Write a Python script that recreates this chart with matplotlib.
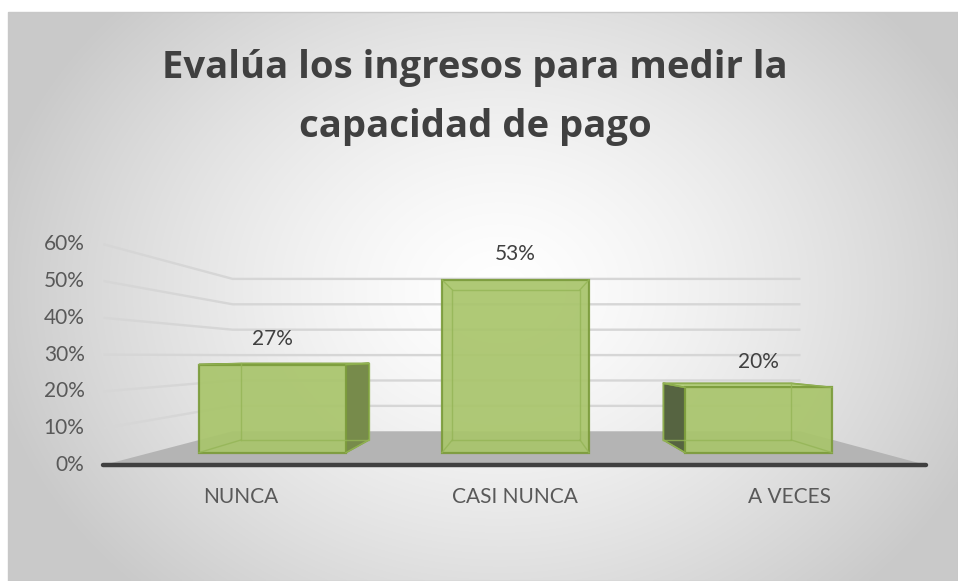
import numpy as np
import matplotlib
matplotlib.use("Agg")
import matplotlib.pyplot as plt
from matplotlib.patches import Polygon, Rectangle

# ---------------- data ----------------
categories = ["NUNCA", "CASI NUNCA", "A VECES"]
values = [27, 53, 20]
yticks = [0, 10, 20, 30, 40, 50, 60]
title_lines = ["Evalúa los ingresos para medir la", "capacidad de pago"]

# ---------------- layout / style ----------------
W, H, DPI = 958, 581, 100
plt.rcParams['font.family'] = ['Lato', 'DejaVu Sans']

# data-coordinate mapping (x: category units, y: percent on the bar front plane)
X0PX, XSCALE = 272.5, 243.0
Y0PX, YSCALE = 452.6, 3.26
def px2d(xp, yp):
    return ((xp - X0PX) / XSCALE, (Y0PX - yp) / YSCALE)

# perspective model
VX, VY = 1.02, 29.6
F_FRONT, F_BACK, F_BAR_BACK = 1.129, 0.779, 0.869
XL, XR = -0.5, 2.5
BAR_W = 0.605

def proj(x, y, f):
    return (VX + f * (x - VX), VY + f * (y - VY))

fig = plt.figure(figsize=(W / DPI, H / DPI), dpi=DPI)
fig.patch.set_facecolor("white")
ax = fig.add_axes([0, 0, 1, 1])
xa, yb = px2d(0, H)
xb, ya = px2d(W, 0)
ax.set_xlim(xa, xb)
ax.set_ylim(yb, ya)
ax.axis("off")

# ---------------- background (radial gradient chart area) ----------------
cx0, cy0 = 8, 12
gx = np.linspace(cx0, W, 400)
gy = np.linspace(cy0, H, 250)
GX, GY = np.meshgrid(gx, gy)
r = np.sqrt(((GX - 500) / 520.0) ** 2 + ((GY - 290) / 420.0) ** 2)
val = 1.0 - 0.21 * np.clip(r, 0, 1) ** 1.4
img = np.dstack([val, val, val])
e0 = px2d(cx0, H)
e1 = px2d(W, cy0)
ax.imshow(img, extent=[e0[0], e1[0], e0[1], e1[1]], origin="upper",
          aspect="auto", zorder=0, interpolation="bilinear")
bx0, by0 = px2d(cx0, H)
bx1, by1 = px2d(W, cy0)
ax.add_patch(Rectangle((bx0, by0), bx1 - bx0, by1 - by0, fill=False,
                       edgecolor="#c8c8c8", lw=1.0, zorder=1))

# ---------------- floor ----------------
floor = [proj(XL, 0, F_FRONT), proj(XR, 0, F_FRONT),
         proj(XR, 0, F_BACK), proj(XL, 0, F_BACK)]
ax.add_patch(Polygon(floor, closed=True, facecolor="#b4b4b4",
                     edgecolor="none", zorder=2))

# ---------------- gridlines (side + back wall) ----------------
for t in yticks[1:]:
    p1 = proj(XL, t, F_FRONT)
    p2 = proj(XL, t, F_BACK)
    p3 = proj(XR, t, F_BACK)
    ax.plot([p1[0], p2[0], p3[0]], [p1[1], p2[1], p3[1]],
            color="#d6d6d6", lw=1.7, zorder=3, solid_capstyle="butt")

# axis line
a1 = proj(XL, 0, F_FRONT)
a2 = proj(XR, 0, F_FRONT)
ax.plot([a1[0], a2[0]], [a1[1], a2[1]], color="#404040", lw=3.2, zorder=4,
        solid_capstyle="round")

# ---------------- bars ----------------
face = "#a9c56c"
edge = "#7c9c3c"
xs = np.arange(len(categories))
for c, v in zip(xs, values):
    l, rr = c - BAR_W / 2, c + BAR_W / 2
    # side faces
    if rr < VX:
        poly = [proj(rr, 0, 1), proj(rr, v, 1), proj(rr, v, F_BAR_BACK), proj(rr, 0, F_BAR_BACK)]
        ax.add_patch(Polygon(poly, closed=True, facecolor="#778b4b",
                             edgecolor=edge, lw=1.2, zorder=5))
    if l > VX:
        poly = [proj(l, 0, 1), proj(l, v, 1), proj(l, v, F_BAR_BACK), proj(l, 0, F_BAR_BACK)]
        ax.add_patch(Polygon(poly, closed=True, facecolor="#566441",
                             edgecolor=edge, lw=1.2, zorder=5))
    # top face
    if v < VY:
        poly = [proj(l, v, 1), proj(rr, v, 1), proj(rr, v, F_BAR_BACK), proj(l, v, F_BAR_BACK)]
        ax.add_patch(Polygon(poly, closed=True, facecolor="#b8d283",
                             edgecolor=edge, lw=1.2, zorder=5))

ax.bar(xs, values, width=BAR_W, bottom=0, color=face, alpha=0.93,
       edgecolor=edge, linewidth=1.6, zorder=6)

# inner (back) edges seen through the translucent bars
for c, v in zip(xs, values):
    l, rr = c - BAR_W / 2, c + BAR_W / 2
    back = [proj(l, 0, F_BAR_BACK), proj(rr, 0, F_BAR_BACK),
            proj(rr, v, F_BAR_BACK), proj(l, v, F_BAR_BACK)]
    bxs = [p[0] for p in back] + [back[0][0]]
    bys = [p[1] for p in back] + [back[0][1]]
    ax.plot(bxs, bys, color="#94b556", lw=1.0, alpha=0.8, zorder=7)
    for (xx, yy), p in zip([(l, 0), (rr, 0), (rr, v), (l, v)], back):
        ax.plot([xx, p[0]], [yy, p[1]], color="#94b556", lw=1.0, alpha=0.8, zorder=7)
    ax.annotate(f"{v}%", xy=(c, v), xytext=(0, 18.5), textcoords="offset points",
                ha="center", va="center", fontsize=15, color="#404040", zorder=8)

# ---------------- tick labels ----------------
for t in yticks:
    p = proj(XL, t, F_FRONT)
    ax.annotate(f"{t}%", xy=p, xytext=(-13.5, 0), textcoords="offset points",
                ha="right", va="center", fontsize=15, color="#595959", zorder=8)

for c, name in zip(xs, categories):
    p = proj(c, 0, F_FRONT)
    ax.annotate(name, xy=p, xytext=(0, -23), textcoords="offset points",
                ha="center", va="center", fontsize=15, color="#595959", zorder=8)

# ---------------- title ----------------
for line, ybase in zip(title_lines, [78, 137]):
    tx, ty = px2d(475, ybase)
    ax.text(tx, ty, line, ha="center", va="baseline", fontsize=27.5,
            fontweight="bold", family=["Open Sans", "DejaVu Sans"],
            color="#404040", zorder=8)

fig.savefig("out.png", dpi=DPI)
